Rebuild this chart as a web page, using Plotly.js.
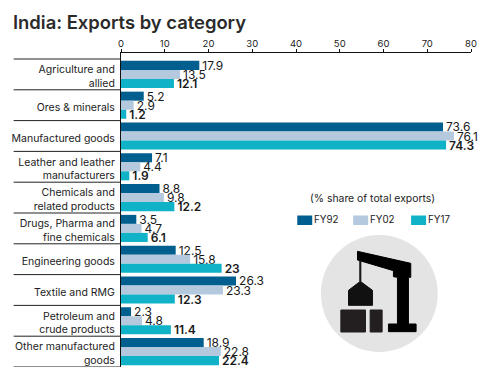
<!DOCTYPE html>
<html><head><meta charset="utf-8">
<script src="https://cdn.plot.ly/plotly-3.0.1.min.js"></script>
<style>html,body{margin:0;padding:0;background:#fff}</style></head>
<body><div id="c" style="width:493px;height:384px"></div>
<script>
const categories=["Agriculture and<br>allied","Ores & minerals","Manufactured goods","Leather and leather<br>manufacturers","Chemicals and<br>related products","Drugs, Pharma and<br>fine chemicals","Engineering goods","Textile and RMG","Petroleum and<br>crude products","Other manufactured<br>goods"];
const fy92=[17.9,5.2,73.6,7.1,8.8,3.5,12.5,26.3,2.3,18.9];
const fy02=[13.5,2.9,76.1,4.4,9.8,4.7,15.8,23.3,4.8,22.8];
const fy17=[12.1,1.2,74.3,1.9,12.2,6.1,23,12.3,11.4,22.4];
const colors=["#005F8F","#B5C9DE","#0FB2C6"];
const names=["FY92","FY02","FY17"];
const W=493,H=384,L=120.5,R=22,T=53,B=17;
const px=x=>(x-L)/(W-L-R), py=y=>1-(y-T)/(H-T-B);
const FONT="Inter, Lato, sans-serif";
const mk=(v,i,bold)=>({type:"bar",orientation:"h",name:names[i],y:categories,x:v,
  marker:{color:colors[i]},text:v.map(String),textposition:"outside",cliponaxis:false,constraintext:"none",
  textfont:{family:FONT,size:12,color:"#1a1a1a",weight:bold?600:400},hoverinfo:"x+y",showlegend:false});
const traces=[mk(fy92,0),mk(fy02,1),mk(fy17,2,true)];
const shapes=[], annotations=[];
for(let i=0;i<=10;i++) shapes.push({type:"line",xref:"paper",yref:"y",x0:px(13),x1:0,y0:i-0.5,y1:i-0.5,line:{color:"#222",width:1}});
const rect=(x0,y0,x1,y1,c,r)=>shapes.push({type:"rect",xref:"paper",yref:"paper",x0:px(x0),x1:px(x1),y0:py(y0),y1:py(y1),fillcolor:c,line:{width:r||0,color:c}});
names.forEach((n,i)=>{
  const sx=[297,353,411][i];
  rect(sx,215.5,sx+15,225,colors[i]);
  annotations.push({xref:"paper",yref:"paper",x:px(sx+15),y:py(219.5),text:n,showarrow:false,xanchor:"left",yanchor:"middle",font:{family:FONT,size:9.8,color:"#222"}});
});
annotations.push({xref:"paper",yref:"paper",x:px(372.5),y:py(198),text:"(% share of total exports)",showarrow:false,xanchor:"center",yanchor:"middle",font:{family:FONT,size:10.4,color:"#222"}});
annotations.push({xref:"paper",yref:"paper",x:px(10),y:py(21.5),text:"India: Exports by category",showarrow:false,xanchor:"left",yanchor:"middle",font:{family:"Inter, sans-serif",size:18.4,color:"#2a2a2a",weight:600}});
// decorative crane icon
shapes.push({type:"circle",xref:"paper",yref:"paper",x0:px(320.7),x1:px(437.7),y0:py(235),y1:py(352),fillcolor:"#E4E4E4",line:{width:0},layer:"below"});
const z=(a,b)=>`${px(280+a/3)},${py(180+b/3)}`;
const poly=(pts,c)=>shapes.push({type:"path",xref:"paper",yref:"paper",path:"M"+pts.map(p=>z(p[0],p[1])).join("L")+"Z",fillcolor:c,line:{width:1,color:c}});
poly([[232,214],[392,250],[392,292],[385,292],[385,432],[408,432],[408,455],[325,455],[325,432],[352,432],[352,292],[340,290],[340,272],[232,240]],"#000");
poly([[239,240],[242,240],[242,305],[277,331],[277,376],[205,376],[205,331],[239,305]],"#111");
poly([[182,390],[256,390],[256,456],[182,456]],"#231F20");
poly([[270,390],[306,390],[306,456],[270,456]],"#231F20");
const layout={width:W,height:H,margin:{l:L,r:R,t:T,b:B,pad:0},paper_bgcolor:"#fff",plot_bgcolor:"#fff",
  barmode:"group",bargap:0.12,bargroupgap:0,
  xaxis:{side:"top",range:[0,80],tick0:0,dtick:10,showgrid:false,zeroline:false,showline:true,linecolor:"#111",linewidth:1,ticks:"outside",ticklen:3,tickcolor:"#111",ticklabelstandoff:-2,tickfont:{family:FONT,size:9.5,color:"#222"}},
  yaxis:{type:"category",range:[9.5,-0.695],showgrid:false,zeroline:false,showline:true,linecolor:"#111",linewidth:1,ticks:"",ticklabelstandoff:3,ticklabelshift:-2,tickfont:{family:FONT,size:10.5,color:"#222"}},
  shapes,annotations,showlegend:false};
Plotly.newPlot("c",traces,layout,{displayModeBar:false,staticPlot:true});
</script></body></html>
